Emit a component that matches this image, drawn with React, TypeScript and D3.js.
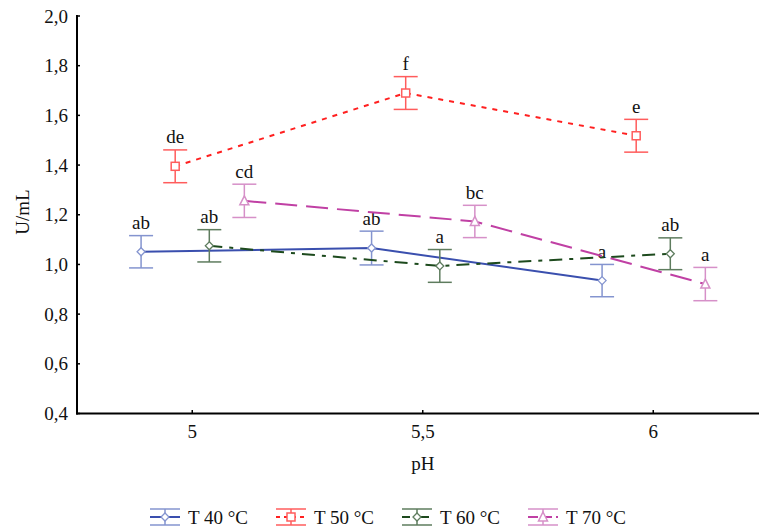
import React from 'react';
import * as d3 from 'd3';

// pH levels on the x axis
const phLevels = [5, 5.5, 6];
const xTickLabels = ['5', '5,5', '6'];
const yTicks = [0.4, 0.6, 0.8, 1.0, 1.2, 1.4, 1.6, 1.8, 2.0];

const seriesNames = ['T 40 °C', 'T 50 °C', 'T 60 °C', 'T 70 °C'];

// means (U/mL)
const t40 = [1.051, 1.066, 0.935];
const t50 = [1.395, 1.69, 1.518];
const t60 = [1.075, 0.994, 1.043];
const t70 = [1.256, 1.173, 0.921];

// standard errors
const se40 = [0.065, 0.068, 0.065];
const se50 = [0.066, 0.066, 0.066];
const se60 = [0.065, 0.066, 0.064];
const se70 = [0.067, 0.065, 0.067];

// significance letters
const let40 = ['ab', 'ab', 'a'];
const let50 = ['de', 'f', 'e'];
const let60 = ['ab', 'a', 'ab'];
const let70 = ['cd', 'bc', 'a'];

// horizontal dodge of each series, in pH units
const dodge = [-0.111, -0.037, 0.037, 0.113];

const styles = [
  { line: '#3a4fae', bar: '#8494cf', dash: null, legendDash: null, marker: 'diamond' },
  { line: '#ff2020', bar: '#ff5c5c', dash: '5,6', legendDash: '4,4', marker: 'square' },
  { line: '#1d4a1d', bar: '#5e7c5e', dash: '13,7,4,7', legendDash: '8,4,3,4', marker: 'diamond' },
  { line: '#c040a4', bar: '#d690c8', dash: '22,9', legendDash: '10,4', marker: 'triangle' },
];

const means = [t40, t50, t60, t70];
const errs = [se40, se50, se60, se70];
const letters = [let40, let50, let60, let70];

const W = 759, H = 531;
const txt: React.CSSProperties = {
  fontFamily: '"Liberation Serif", Tinos, "Times New Roman", "DejaVu Serif", serif',
  fontSize: 19,
  fill: '#111',
};

function Marker({ type, x, y, color }) {
  if (type === 'square') {
    return <rect x={x - 4} y={y - 4} width={8} height={8} fill="#fff" stroke={color} strokeWidth={1.5} />;
  }
  if (type === 'triangle') {
    return <path d={`M${x},${y - 5}L${x + 4.5},${y + 4}L${x - 4.5},${y + 4}Z`} fill="#fff" stroke={color} strokeWidth={1.5} />;
  }
  return <path d={`M${x},${y - 4}L${x + 4},${y}L${x},${y + 4}L${x - 4},${y}Z`} fill="#fff" stroke={color} strokeWidth={1.3} />;
}

export default function App() {
  const x = d3.scaleLinear().domain([4.75, 6.25]).range([77, 768.5]);
  const y = d3.scaleLinear().domain([0.4, 2.0]).range([413.5, 16]);
  const fmt = (v: number) => d3.format('.1f')(v).replace('.', ',');
  const line = d3.line<[number, number]>().x(d => d[0]).y(d => d[1]);
  const cap = 12;

  return (
    <svg width={W} height={H} style={{ position: 'absolute', left: 0, top: 0, background: '#fff' }}>
      {/* series */}
      {means.map((vals, s) => {
        const st = styles[s];
        const pts: [number, number][] = vals.map((v, i) => [x(phLevels[i] + dodge[s]), y(v)]);
        return (
          <g key={s}>
            <path d={line(pts) || ''} fill="none" stroke={st.line} strokeWidth={2}
              strokeDasharray={st.dash || undefined} />
            {vals.map((v, i) => {
              const cx = x(phLevels[i] + dodge[s]);
              const yt = y(v + errs[s][i]);
              const yb = y(v - errs[s][i]);
              return (
                <g key={i}>
                  <line x1={cx} x2={cx} y1={yt} y2={yb} stroke={st.bar} strokeWidth={1.5} />
                  <line x1={cx - cap} x2={cx + cap} y1={yt} y2={yt} stroke={st.bar} strokeWidth={1.5} />
                  <line x1={cx - cap} x2={cx + cap} y1={yb} y2={yb} stroke={st.bar} strokeWidth={1.5} />
                  <Marker type={st.marker} x={cx} y={y(v)} color={st.bar} />
                  <text x={cx} y={yt - 6.5} textAnchor="middle" style={txt}>
                    {letters[s][i]}
                  </text>
                </g>
              );
            })}
          </g>
        );
      })}

      {/* axes */}
      <line x1={77} x2={77} y1={15} y2={414.5} stroke="#000" strokeWidth={2} />
      <line x1={76} x2={759} y1={413.5} y2={413.5} stroke="#000" strokeWidth={2} />
      {yTicks.map(t => (
        <g key={t}>
          <line x1={77} x2={80} y1={y(t)} y2={y(t)} stroke="#000" strokeWidth={1.5} />
          <text x={68} y={y(t)} dy="0.35em" textAnchor="end" style={txt}>
            {fmt(t)}
          </text>
        </g>
      ))}
      {phLevels.map((p, i) => (
        <g key={p}>
          <line x1={x(p)} x2={x(p)} y1={413.5} y2={410} stroke="#000" strokeWidth={1.5} />
          <text x={x(p)} y={438} textAnchor="middle" style={txt}>
            {xTickLabels[i]}
          </text>
        </g>
      ))}
      <text x={x(5.5)} y={470} textAnchor="middle" style={txt}>pH</text>
      <text transform="translate(29,212) rotate(-90)" textAnchor="middle" style={txt}>
        U/mL
      </text>

      {/* legend */}
      {seriesNames.map((name, s) => {
        const st = styles[s];
        const lx = 150 + s * 126;
        const ly = 517;
        return (
          <g key={name}>
            <line x1={lx} x2={lx + 30} y1={ly - 8} y2={ly - 8} stroke={st.bar} strokeWidth={1.5} />
            <line x1={lx} x2={lx + 30} y1={ly + 8} y2={ly + 8} stroke={st.bar} strokeWidth={1.5} />
            <line x1={lx + 15} x2={lx + 15} y1={ly - 8} y2={ly + 8} stroke={st.bar} strokeWidth={1.5} />
            <line x1={lx} x2={lx + 30} y1={ly} y2={ly} stroke={st.line} strokeWidth={2}
              strokeDasharray={st.legendDash || undefined} />
            <Marker type={st.marker} x={lx + 15} y={ly} color={st.bar} />
            <text x={lx + 38} y={ly} dy="0.35em" style={txt}>{name}</text>
          </g>
        );
      })}
    </svg>
  );
}
